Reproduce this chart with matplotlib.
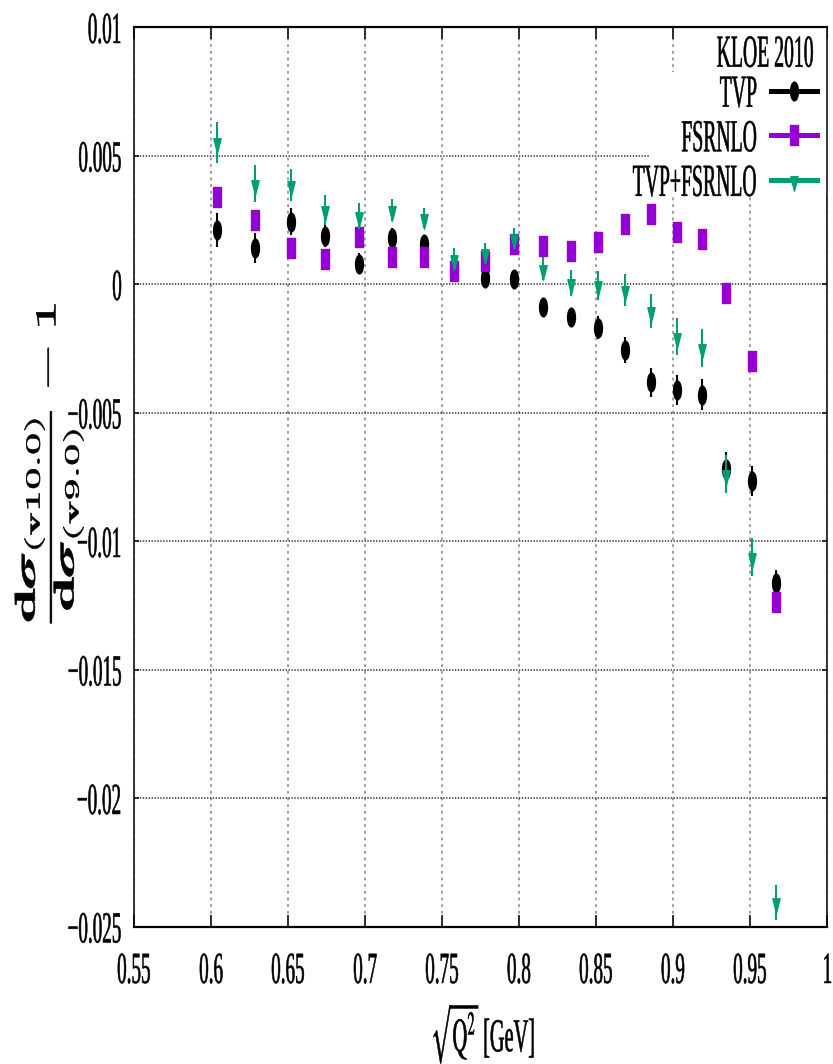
import matplotlib
matplotlib.use('Agg')
import matplotlib.pyplot as plt
from matplotlib import patheffects
from matplotlib.lines import Line2D
from matplotlib.patches import Rectangle
from matplotlib.path import Path
from matplotlib.transforms import Affine2D


q = [0.6041, 0.6286, 0.6520, 0.6741, 0.6963, 0.7175, 0.7383, 0.7580, 0.7777, 0.7967,
     0.8154, 0.8336, 0.8513, 0.8688, 0.8859, 0.9026, 0.9190, 0.9345, 0.9511, 0.9669]

tvp = [0.00212, 0.00141, 0.00244, 0.00190, 0.00081, 0.00182, 0.00158, 0.00055, 0.00025, 0.00020,
       -0.00088, -0.00128, -0.00168, -0.00256, -0.00381, -0.00410, -0.00429, -0.00719, -0.00765, -0.01163]
tvp_err = [0.00065, 0.00058, 0.00052, 0.00043, 0.00040, 0.00037, 0.00035, 0.00035, 0.00035, 0.00035,
           0.00035, 0.00037, 0.00045, 0.00050, 0.00055, 0.00058, 0.00060, 0.00069, 0.00058, 0.00050]

fsrnlo = [0.00339, 0.00250, 0.00141, 0.00098, 0.00184, 0.00106, 0.00105, 0.00054, 0.00090, 0.00159,
          0.00149, 0.00129, 0.00164, 0.00234, 0.00273, 0.00203, 0.00176, -0.00034, -0.00299, -0.01237]
fsrnlo_err = [0.0004] * 20

both = [0.00554, 0.00392, 0.00387, 0.00290, 0.00266, 0.00289, 0.00259, 0.00100, 0.00121, 0.00180,
        0.00062, 0.00005, -0.00003, -0.00021, -0.00104, -0.00203, -0.00248, -0.00737, -0.01060, -0.02404]
both_err = [0.00080, 0.00073, 0.00062, 0.00058, 0.00050, 0.00044, 0.00040, 0.00040, 0.00040, 0.00040,
            0.00043, 0.00050, 0.00056, 0.00062, 0.00067, 0.00071, 0.00075, 0.00075, 0.00073, 0.00068]

x_ticks = [0.55, 0.6, 0.65, 0.7, 0.75, 0.8, 0.85, 0.9, 0.95, 1.0]
x_tick_labels = ['0.55', '0.6', '0.65', '0.7', '0.75', '0.8', '0.85', '0.9', '0.95', '1']
y_ticks = [0.01, 0.005, 0.0, -0.005, -0.01, -0.015, -0.02, -0.025]
y_tick_labels = ['0.01', '0.005', '0', '\u22120.005', '\u22120.01', '\u22120.015', '\u22120.02', '\u22120.025']

SQUEEZE = 0.43


class Squeeze(patheffects.AbstractPathEffect):
    # the original picture is squashed sideways, so squash the glyphs the same way
    def __init__(self, sx=1.0, sy=1.0, anchor='left'):
        super().__init__()
        self.sx = sx
        self.sy = sy
        self.anchor = anchor

    def draw_path(self, renderer, gc, tpath, affine, rgbFace=None):
        ext = tpath.get_extents()
        x0 = {'left': 0.0, 'center': (ext.x0 + ext.x1) / 2, 'right': ext.x1}[self.anchor]
        y0 = (ext.y0 + ext.y1) / 2
        squash = Affine2D().translate(-x0, -y0).scale(self.sx, self.sy).translate(x0, y0)
        gc0 = renderer.new_gc()
        gc0.copy_properties(gc)
        gc0.set_linewidth(0.4)
        renderer.draw_path(gc0, tpath, squash + affine, rgbFace)
        gc0.restore()


def squeezed(anchor, sx=SQUEEZE, sy=1.0):
    return [Squeeze(sx, sy, anchor)]


plt.rcParams['font.family'] = ['Liberation Serif', 'DejaVu Serif']
plt.rcParams['lines.scale_dashes'] = False

circle = Path.unit_circle()
ellipse = Path(circle.vertices * [0.42, 1.0], circle.codes)
box = Path([(-0.38, -1), (0.38, -1), (0.38, 1), (-0.38, 1), (-0.38, -1)], closed=True)
tri_down = Path([(-0.34, 0.35), (0.34, 0.35), (0, -1), (-0.34, 0.35)], closed=True)

fig = plt.figure(figsize=(8.33, 10.64), dpi=100)
ax = fig.add_axes([0.1609, 0.1288, 0.8319, 0.8454])

ax.errorbar(q, tvp, yerr=tvp_err, ls='none', marker=ellipse, ms=13.5, color='black',
            elinewidth=1.5, capsize=0, zorder=3)
ax.errorbar(q, fsrnlo, yerr=fsrnlo_err, ls='none', marker=box, ms=15, color='#9400d3',
            elinewidth=1.5, capsize=0, zorder=4)
ax.errorbar(q, both, yerr=both_err, ls='none', marker=tri_down, ms=15.4, color='#009e73',
            elinewidth=1.5, capsize=0, zorder=5)

ax.set_xlim(0.55, 1.0)
ax.set_ylim(-0.025, 0.01)
ax.set_xticks(x_ticks, x_tick_labels)
ax.set_yticks(y_ticks, y_tick_labels)
ax.tick_params(axis='x', direction='in', top=True, length=8.6, width=1.3, pad=18,
               labelsize=32, color='#202020')
ax.tick_params(axis='y', direction='in', right=True, length=3.6, width=1.3, pad=8,
               labelsize=32, color='#202020')
for lab in ax.get_xticklabels():
    lab.set_path_effects(squeezed('center'))
for lab in ax.get_yticklabels():
    lab.set_path_effects(squeezed('right'))

ax.set_axisbelow(True)
ax.xaxis.grid(True, color='#8c8c8c', lw=1.2, linestyle=(0, (2.0, 2.8)))
ax.yaxis.grid(True, color='#404040', lw=1.2, linestyle=(0, (1.0, 1.1)))

for side in ['top', 'bottom']:
    ax.spines[side].set_linewidth(1.6)
for side in ['left', 'right']:
    ax.spines[side].set_linewidth(1.1)

# gnuplot key hides the grid behind it
ax.add_patch(Rectangle((0.745, 0.814), 0.26, 0.136, transform=ax.transAxes,
                       fc='white', ec='none', zorder=1))
ax.add_patch(Rectangle((0.817, 0.95), 0.19, 0.06, transform=ax.transAxes,
                       fc='white', ec='none', zorder=1))

kloe = ax.text(0.9827, 0.9744, 'KLOE 2010', transform=ax.transAxes, ha='right',
               va='center_baseline', fontsize=33, zorder=6)
kloe.set_path_effects(squeezed('right'))

handles = [
    Line2D([], [], color='black', lw=3.6, marker=ellipse, ms=13.5),
    Line2D([], [], color='#9400d3', lw=3.6, marker=box, ms=15),
    Line2D([], [], color='#009e73', lw=3.6, marker=tri_down, ms=15.4),
]
leg = ax.legend(handles, ['TVP', 'FSRNLO', 'TVP+FSRNLO'],
                loc='upper right', bbox_to_anchor=(0.9856, 0.948), frameon=False,
                borderpad=0, borderaxespad=0, markerfirst=False,
                handlelength=1.0, handletextpad=0.28, labelspacing=0.045, fontsize=33)
for t in leg.get_texts():
    t.set_path_effects(squeezed('right'))

ax.set_ylabel(r'$\dfrac{\mathbf{d}\boldsymbol{\sigma}_{\mathbf{(v10.0)}}}'
              r'{\mathbf{d}\boldsymbol{\sigma}_{\mathbf{(v9.0)}}} - \mathbf{1}$',
              fontsize=46, math_fontfamily='cm', va='center')
ax.yaxis.set_label_coords(-0.1227, 0.516)
ax.yaxis.label.set_path_effects(squeezed('center', sx=1.0, sy=0.45))

ax.set_xlabel(r'$\sqrt{\mathrm{Q}^2}$ [GeV]', fontsize=34, math_fontfamily='stix')
ax.xaxis.set_label_coords(0.502, -0.083)
ax.xaxis.label.set_path_effects(squeezed('center'))

fig.savefig('out.png', dpi=100)
